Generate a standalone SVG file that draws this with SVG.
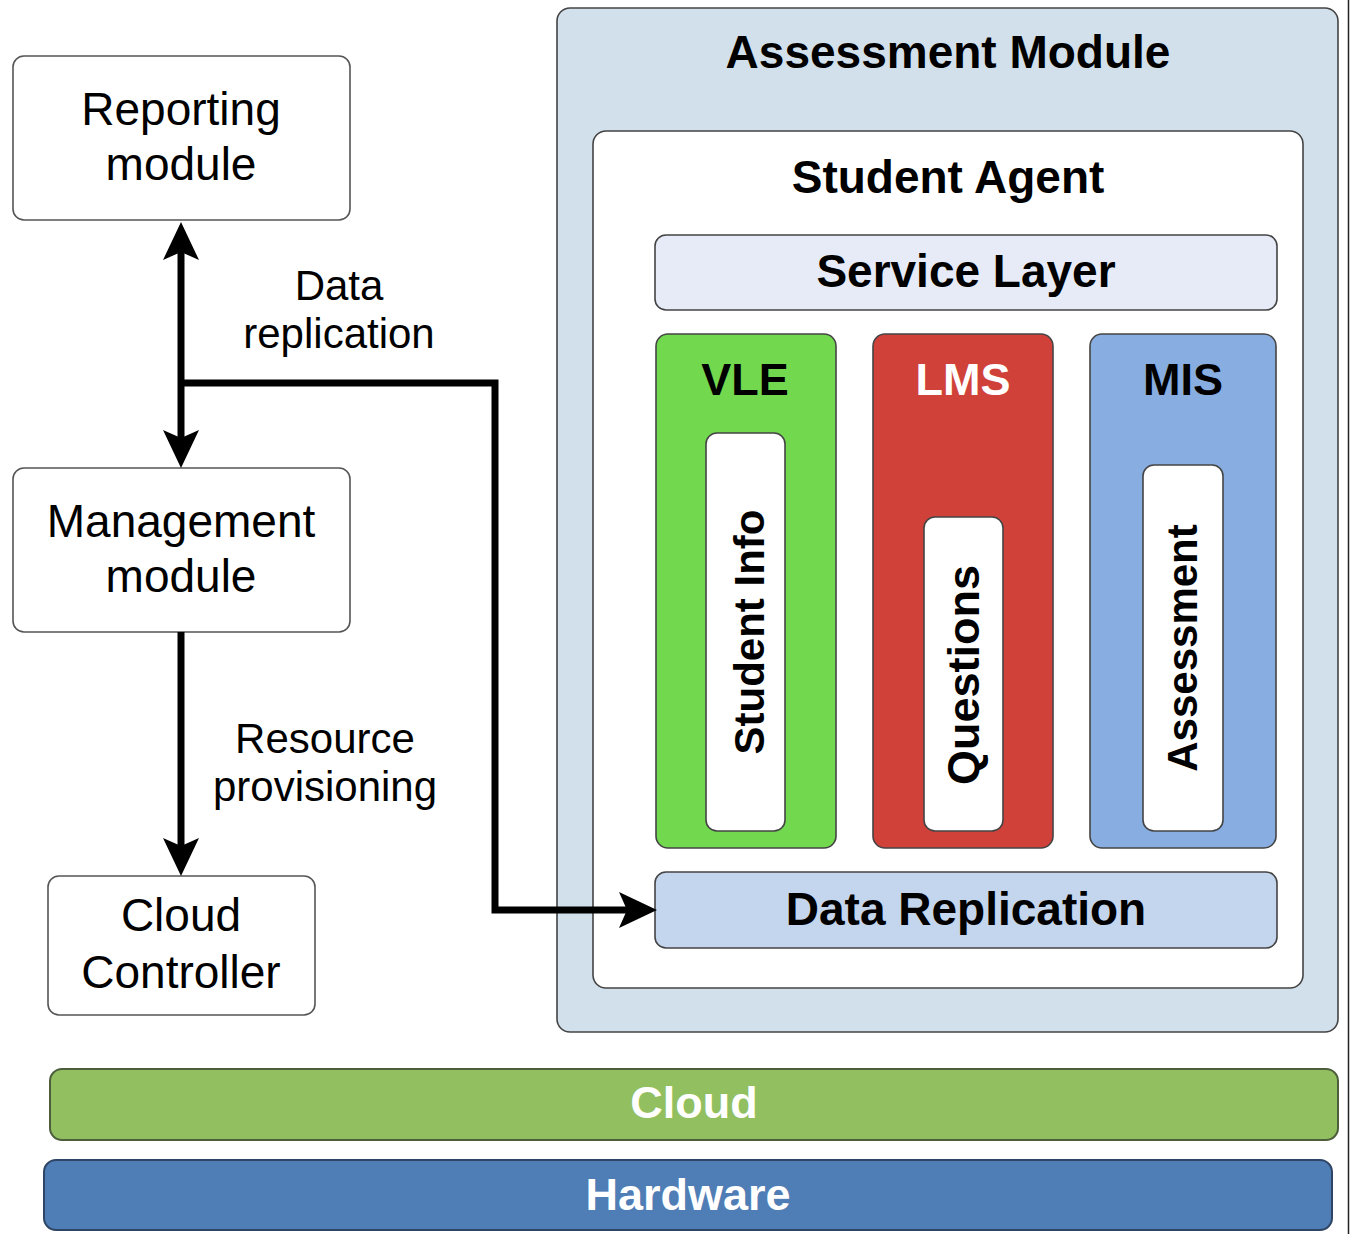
<svg xmlns="http://www.w3.org/2000/svg" width="1351" height="1234" viewBox="0 0 1351 1234">
  <style>
    text { font-family: "Liberation Sans", Arial, sans-serif; fill: #000; text-anchor: middle; }
    .plain { font-size: 46px; }
    .label { font-size: 42px; }
    .bold { font-weight: bold; }
    .box { fill: #fff; stroke: #555; stroke-width: 1.6; }
    .frame { stroke: #444; stroke-width: 1.6; }
    .white { fill: #fff; }
    .link { fill: none; stroke: #000; stroke-width: 7; stroke-linejoin: miter; }
  </style>
  <defs>
    <marker id="head" viewBox="0 0 38 36" refX="8" refY="18" markerWidth="38" markerHeight="36" markerUnits="userSpaceOnUse" orient="auto-start-reverse">
      <path d="M0,0 L38,18 L0,36 L8,18 z" fill="#000"/>
    </marker>
  </defs>

  <!-- background -->
  <rect x="0" y="0" width="1351" height="1234" fill="#fff"/>
  <line x1="1348.5" y1="0" x2="1348.5" y2="1234" stroke="#222" stroke-width="1.5"/>

  <!-- left column -->
  <g id="reporting-module">
    <rect class="box" x="13" y="56" width="337" height="164" rx="11"/>
    <text class="plain" x="181" y="125">Reporting</text>
    <text class="plain" x="181" y="180">module</text>
  </g>
  <g id="management-module">
    <rect class="box" x="13" y="468" width="337" height="164" rx="11"/>
    <text class="plain" x="181" y="537">Management</text>
    <text class="plain" x="181" y="592">module</text>
  </g>
  <g id="cloud-controller">
    <rect class="box" x="48" y="876" width="267" height="139" rx="11"/>
    <text class="plain" x="181" y="931">Cloud</text>
    <text class="plain" x="181" y="988">Controller</text>
  </g>

  <!-- assessment module and nested parts -->
  <g id="assessment-module">
    <rect class="frame" x="557" y="8" width="781" height="1024" rx="13" fill="#d2e0ec"/>
    <text class="plain bold" x="948" y="68">Assessment Module</text>
  </g>
  <g id="student-agent">
    <rect class="frame" x="593" y="131" width="710" height="857" rx="13" fill="#fff"/>
    <text class="plain bold" x="948" y="193">Student Agent</text>
  </g>
  <g id="service-layer">
    <rect class="frame" x="655" y="235" width="622" height="75" rx="11" fill="#e6ebf7"/>
    <text class="plain bold" x="966" y="287">Service Layer</text>
  </g>
  <g id="vle">
    <rect class="frame" x="656" y="334" width="180" height="514" rx="12" fill="#72d94f"/>
    <text class="bold" x="745" y="395" font-size="45">VLE</text>
    <rect class="frame" x="706" y="433" width="79" height="398" rx="11" fill="#fff"/>
    <text class="label bold" transform="translate(764,632) rotate(-90)">Student Info</text>
  </g>
  <g id="lms">
    <rect class="frame" x="873" y="334" width="180" height="514" rx="12" fill="#d0413a"/>
    <text class="bold white" x="963" y="395" font-size="45">LMS</text>
    <rect class="frame" x="924" y="517" width="79" height="314" rx="11" fill="#fff"/>
    <text class="bold" font-size="45" transform="translate(979,675) rotate(-90)">Questions</text>
  </g>
  <g id="mis">
    <rect class="frame" x="1090" y="334" width="186" height="514" rx="12" fill="#88ade0"/>
    <text class="bold" x="1183" y="395" font-size="45">MIS</text>
    <rect class="frame" x="1143" y="465" width="80" height="366" rx="11" fill="#fff"/>
    <text class="label bold" transform="translate(1197,648) rotate(-90)">Assessment</text>
  </g>
  <g id="data-replication">
    <rect class="frame" x="655" y="872" width="622" height="76" rx="11" fill="#c4d6ee"/>
    <text class="plain bold" x="966" y="925">Data Replication</text>
  </g>

  <!-- platform layers -->
  <g id="cloud">
    <rect x="50" y="1069" width="1288" height="71" rx="12" fill="#92c060" stroke="#4d5e3c" stroke-width="2"/>
    <text class="bold white" x="694" y="1118" font-size="45">Cloud</text>
  </g>
  <g id="hardware">
    <rect x="44" y="1160" width="1288" height="70" rx="12" fill="#4f7db5" stroke="#2f4565" stroke-width="2"/>
    <text class="bold white" x="688" y="1210" font-size="45">Hardware</text>
  </g>

  <!-- connectors -->
  <g id="connectors">
    <path class="link" d="M181,252 V438" marker-start="url(#head)" marker-end="url(#head)"/>
    <path class="link" d="M181,383 H495 V910 H627" marker-end="url(#head)"/>
    <path class="link" d="M181,632 V846" marker-end="url(#head)"/>
    <text class="label" x="339" y="300">Data</text>
    <text class="label" x="339" y="348">replication</text>
    <text class="label" x="325" y="753">Resource</text>
    <text class="label" x="325" y="801">provisioning</text>
  </g>
</svg>
